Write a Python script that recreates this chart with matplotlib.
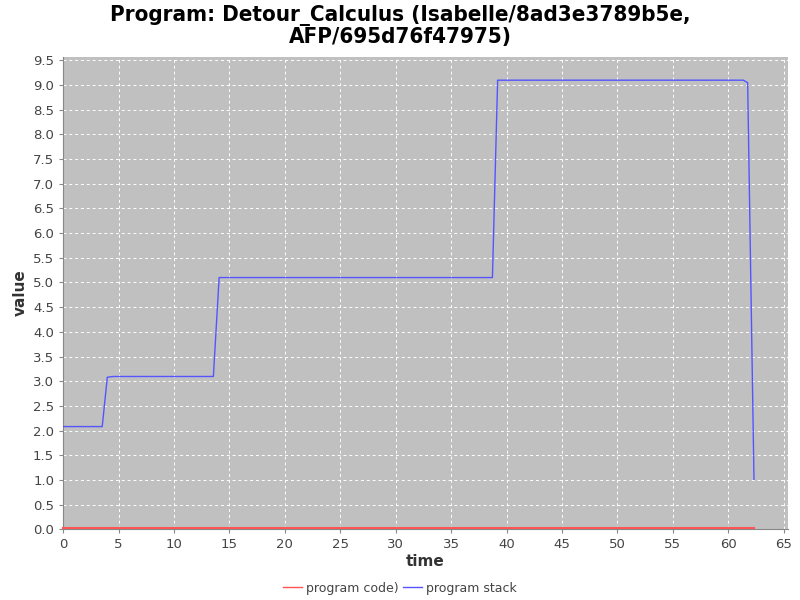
import matplotlib
matplotlib.use("Agg")
import matplotlib.pyplot as plt

title = "Program: Detour_Calculus (Isabelle/8ad3e3789b5e,\nAFP/695d76f47975)"

stack_t = [0.0, 3.52, 3.98, 4.5, 13.55, 14.07, 38.73, 39.2, 61.37, 61.76, 62.33]
stack_v = [2.08, 2.08, 3.08, 3.095, 3.095, 5.10, 5.10, 9.10, 9.10, 9.05, 1.01]

code_t = [0.0, 62.33]
code_v = [0.03, 0.03]

xticks = list(range(0, 70, 5))
yticks = [i * 0.5 for i in range(20)]

fig = plt.figure(figsize=(8, 6), dpi=100)
ax = fig.add_axes([0.079, 0.118, 0.906, 0.787])
ax.set_facecolor("#c0c0c0")

ax.plot(code_t, code_v, color="#ff5555", lw=1.5, label="program code)", zorder=3, clip_on=False)
ax.plot(stack_t, stack_v, color="#5555ff", lw=1.0, label="program stack", zorder=3)

ax.set_xlim(0, 65.4)
ax.set_ylim(0, 9.57)
ax.set_xticks(xticks)
ax.set_yticks(yticks)
ax.set_yticklabels([f"{v:.1f}" for v in yticks])
ax.grid(True, color="white", linestyle=(0, (3, 3)), lw=0.7)
ax.set_axisbelow(True)

for s in ["top", "right"]:
    ax.spines[s].set_visible(False)
ax.spines["left"].set_color("#888888")
ax.spines["bottom"].set_color("#888888")
ax.tick_params(colors="#444444", labelsize=9.5, length=3, color="#888888")

ax.set_xlabel("time", fontsize=11, fontweight="bold", color="#333333", labelpad=2)
ax.set_ylabel("value", fontsize=11, fontweight="bold", color="#333333", labelpad=4)

fig.suptitle(title, fontsize=16, fontweight="bold", y=0.992, linespacing=1.1,
             fontstretch="condensed")

leg = fig.legend(loc="lower center", bbox_to_anchor=(0.5, -0.01), ncol=2, frameon=False,
                 fontsize=9, handlelength=1.5, handletextpad=0.3, columnspacing=0.4)
for t in leg.get_texts():
    t.set_color("#444444")
for h in leg.get_lines():
    h.set_linewidth(1.0)

fig.savefig("out.png", dpi=100)
